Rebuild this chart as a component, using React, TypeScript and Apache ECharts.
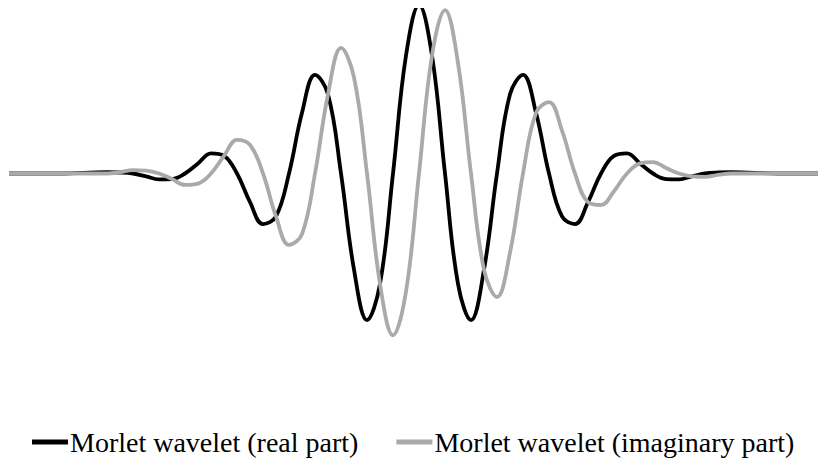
import React, { useEffect, useRef } from "react";
import * as echarts from "echarts";

// Sample positions along the time axis (wavelet centred at 0).
const sampleX = [
  -4.1, -3.6,
  -3.12, -2.99, -2.86, -2.73, -2.6, -2.47, -2.34, -2.21, -2.08, -1.95, -1.82, -1.69,
  -1.56, -1.43, -1.3, -1.17, -1.04, -0.91, -0.78, -0.65, -0.52, -0.39, -0.26, -0.13,
  0,
  0.13, 0.26, 0.39, 0.52, 0.65, 0.78, 0.91, 1.04, 1.17, 1.3, 1.43, 1.56,
  1.69, 1.82, 1.95, 2.08, 2.21, 2.34, 2.47, 2.6, 2.73, 2.86, 2.99, 3.12,
  3.6, 4.0,
];

// Real part of the Morlet wavelet at each sample.
const realPart = [
  0, 0,
  0.008, 0.006, 0, -0.017, -0.035, -0.033, 0, 0.06, 0.12, 0.105, 0, -0.17,
  -0.3, -0.255, 0, 0.36, 0.585, 0.47, 0, -0.57, -0.87, -0.655, 0, 0.7,
  1.0,
  0.7, 0, -0.655, -0.87, -0.57, 0, 0.47, 0.585, 0.36, 0, -0.255, -0.3,
  -0.17, 0, 0.105, 0.12, 0.06, 0, -0.033, -0.035, -0.017, 0, 0.006, 0.008,
  0, 0,
];

// Imaginary part of the Morlet wavelet at each sample.
const imaginaryPart = [
  0, 0,
  0, 0.008, 0.02, 0.017, 0, -0.033, -0.068, -0.06, 0, 0.105, 0.2, 0.17,
  0, -0.255, -0.424, -0.36, 0, 0.47, 0.745, 0.57, 0, -0.655, -0.96, -0.7,
  0,
  0.7, 0.97, 0.655, 0, -0.57, -0.733, -0.47, 0, 0.36, 0.424, 0.255, 0,
  -0.17, -0.187, -0.105, 0, 0.06, 0.068, 0.033, 0, -0.017, -0.02, -0.008, 0,
  0, 0,
];

const seriesNames = ["Morlet wavelet (real part)", "Morlet wavelet (imaginary part)"];
const seriesColors = ["#000000", "#aaaaaa"];

const pairs = (xs: number[], ys: number[]) => xs.map((x, i) => [x, ys[i]]);

export default function App() {
  const ref = useRef<HTMLDivElement>(null);

  useEffect(() => {
    if (!ref.current) return;
    const chart = echarts.init(ref.current, null, { renderer: "svg" });
    chart.setOption({
      animation: false,
      backgroundColor: "#ffffff",
      grid: { left: 9, right: 7, top: 5, bottom: 133, containLabel: false },
      xAxis: { type: "value", min: -4.1, max: 4.0, show: false },
      yAxis: { type: "value", min: -1, max: 1, show: false },
      legend: {
        left: 27,
        bottom: 14,
        itemWidth: 36,
        itemHeight: 5,
        itemGap: 38,
        icon: "rect",
        textStyle: {
          fontFamily: "serif",
          fontSize: 28,
          color: "#000000",
          padding: [0, 0, 0, -3],
        },
        data: seriesNames,
      },
      series: [
        {
          name: seriesNames[0],
          type: "line",
          data: pairs(sampleX, realPart),
          smooth: 0.4,
          showSymbol: false,
          lineStyle: { color: seriesColors[0], width: 3.8 },
          itemStyle: { color: seriesColors[0] },
        },
        {
          name: seriesNames[1],
          type: "line",
          data: pairs(sampleX, imaginaryPart),
          smooth: 0.4,
          showSymbol: false,
          lineStyle: { color: seriesColors[1], width: 3.8 },
          itemStyle: { color: seriesColors[1] },
        },
      ],
    });
    return () => chart.dispose();
  }, []);

  return <div ref={ref} style={{ width: 826, height: 475, margin: -8 }} />;
}
